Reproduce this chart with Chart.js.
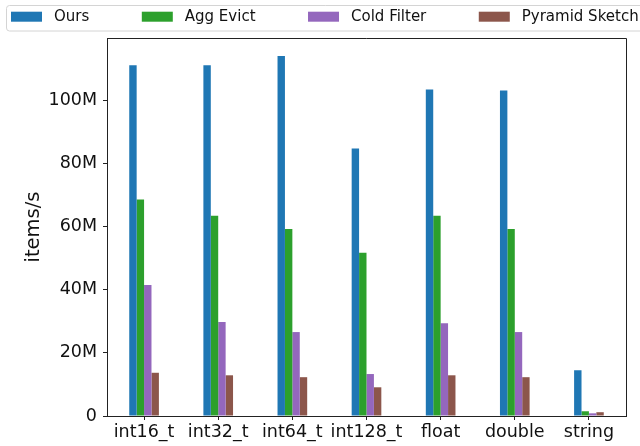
<!DOCTYPE html>
<html>
<head>
<meta charset="utf-8">
<script src="https://cdn.jsdelivr.net/npm/chart.js@4/dist/chart.umd.min.js"></script>
<style>
  html, body { margin: 0; padding: 0; background: #fff; }
  #wrap { width: 640px; height: 446px; position: relative; }
</style>
</head>
<body>
<div id="wrap"><canvas id="c" width="640" height="446"></canvas></div>
<script>
// ---- data ----
const categories = ["int16_t", "int32_t", "int64_t", "int128_t", "float", "double", "string"];
const seriesNames = ["Ours", "Agg Evict", "Cold Filter", "Pyramid Sketch"];
const ours        = [111.2e6, 111.2e6, 114.1e6, 84.8e6, 103.5e6, 103.2e6, 14.5e6];
const aggEvict    = [68.6e6, 63.5e6, 59.3e6, 51.7e6, 63.5e6, 59.3e6, 1.5e6];
const coldFilter  = [41.5e6, 29.8e6, 26.6e6, 13.3e6, 29.4e6, 26.6e6, 0.85e6];
const pyramid     = [13.7e6, 12.9e6, 12.3e6, 9.1e6, 12.9e6, 12.3e6, 1.2e6];
const yTicks = [0, 20e6, 40e6, 60e6, 80e6, 100e6];
const yTickLabels = ["0", "20M", "40M", "60M", "80M", "100M"];
const yMax = 119.8e6;
const yLabel = "items/s";

const colors = ["#1f77b4", "#2ca02c", "#9467bd", "#8c564b"];
const FONT = "'DejaVu Sans', 'Liberation Sans', sans-serif";

const seriesValues = [ours, aggEvict, coldFilter, pyramid];

const framePlugin = {
  id: 'frame',
  afterDraw(chart) {
    const ctx = chart.ctx;
    const a = chart.chartArea;
    ctx.save();
    // top and right spines
    ctx.strokeStyle = '#222';
    ctx.lineWidth = 1;
    ctx.beginPath();
    ctx.moveTo(a.left, a.top + 0.5);
    ctx.lineTo(a.right + 0.5, a.top + 0.5);
    ctx.lineTo(a.right + 0.5, a.bottom);
    ctx.stroke();
    ctx.restore();

    // legend (matplotlib style, 4 columns, expanded)
    ctx.save();
    ctx.beginPath();
    ctx.roundRect(6.5, 5.5, 700, 25.5, 3);
    ctx.fillStyle = 'rgba(255,255,255,0.8)';
    ctx.fill();
    ctx.strokeStyle = '#d4d4d4';
    ctx.lineWidth = 1;
    ctx.stroke();
    ctx.font = "15px " + FONT;
    ctx.textBaseline = 'middle';
    ctx.textAlign = 'left';
    let x = 11;
    chart.data.datasets.forEach((ds) => {
      ctx.fillStyle = ds.backgroundColor;
      ctx.fillRect(x, 11.7, 31, 10);
      ctx.fillStyle = '#111';
      ctx.fillText(ds.label, x + 43, 17);
      const w = ctx.measureText(ds.label).width;
      x = x + 43 + w + 52.5;
    });
    ctx.restore();
  }
};

new Chart(document.getElementById('c'), {
  type: 'bar',
  data: {
    labels: categories,
    datasets: seriesNames.map((name, i) => ({
      label: name,
      data: seriesValues[i],
      backgroundColor: colors[i],
      borderWidth: 0,
      categoryPercentage: 0.4,
      barPercentage: 1.0
    }))
  },
  options: {
    responsive: false,
    animation: false,
    devicePixelRatio: 1,
    layout: { padding: { top: 38, right: 14, left: 0, bottom: 0 } },
    plugins: {
      legend: { display: false },
      tooltip: { enabled: false },
      title: { display: false }
    },
    scales: {
      x: {
        offset: true,
        grid: {
          display: true,
          offset: false,
          drawOnChartArea: false,
          drawTicks: true,
          tickLength: 4,
          color: '#222'
        },
        border: { display: true, color: '#222', width: 1 },
        ticks: {
          color: '#111',
          font: { family: FONT, size: 17.5 },
          padding: 2,
          maxRotation: 0,
          autoSkip: false
        },
        afterFit(s) { s.height = 30; }
      },
      y: {
        min: 0,
        max: yMax,
        grid: {
          display: true,
          drawOnChartArea: false,
          drawTicks: true,
          tickLength: 4,
          color: '#222'
        },
        border: { display: true, color: '#222', width: 1 },
        afterBuildTicks(axis) { axis.ticks = yTicks.map(v => ({ value: v })); },
        ticks: {
          color: '#111',
          padding: 6,
          font: { family: FONT, size: 17.5 },
          callback: (v) => {
            const i = yTicks.indexOf(v);
            return i >= 0 ? yTickLabels[i] : '';
          }
        },
        title: {
          display: true,
          text: yLabel,
          color: '#111',
          font: { family: FONT, size: 19.5 },
          padding: { top: 22, bottom: 0 }
        },
        afterFit(s) { s.width = 107; }
      }
    }
  },
  plugins: [framePlugin]
});
</script>
</body>
</html>
